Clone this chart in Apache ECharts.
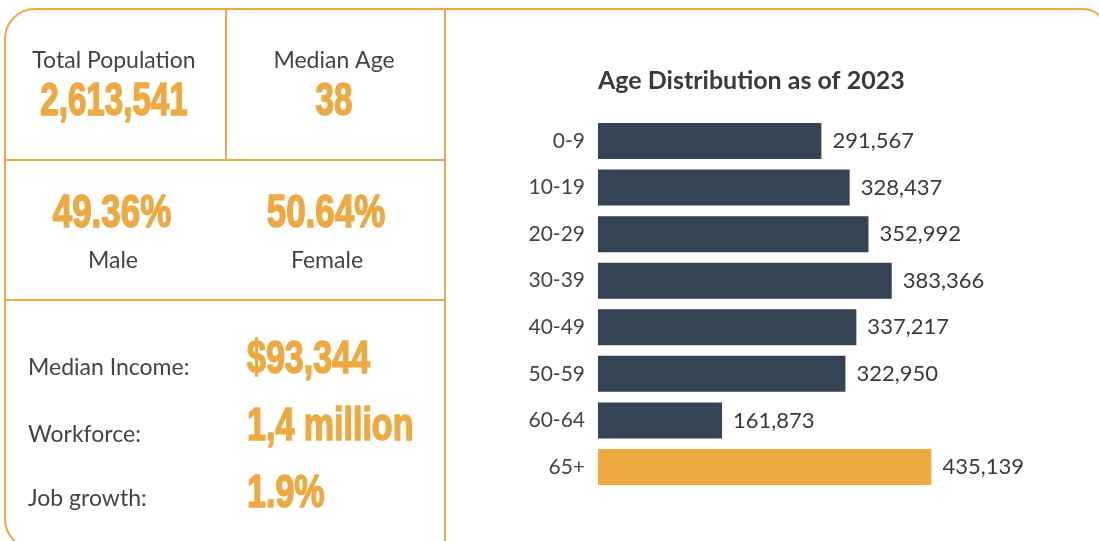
<!DOCTYPE html>
<html lang="en">
<head>
<meta charset="UTF-8">
<title>Age Distribution</title>
<script src="https://cdn.jsdelivr.net/npm/echarts@6/dist/echarts.min.js"></script>
<style>
  body { margin: 0; background: #fff; }
  #root { width: 1099px; height: 541px; }
</style>
</head>
<body>
<div id="root"></div>
<script>
// data
var ageGroups = ['0-9', '10-19', '20-29', '30-39', '40-49', '50-59', '60-64', '65+'];
var ageCounts = [291567, 328437, 352992, 383366, 337217, 322950, 161873, 435139];
var highlightGroup = '65+';

var headlineLabels = ['Total Population', 'Median Age'];
var headlineValues = ['2,613,541', '38'];
var genderLabels = ['Male', 'Female'];
var genderValues = ['49.36%', '50.64%'];
var economyLabels = ['Median Income:', 'Workforce:', 'Job growth:'];
var economyValues = ['$93,344', '1,4 million', '1.9%'];

var ORANGE = '#eea941';
var NAVY = '#354454';
var INK = '#444';
var BODY_FONT = 'Lato, "Open Sans", sans-serif';
var BIG_FONT = '"Liberation Sans", Arial, sans-serif';

var chart = echarts.init(document.getElementById('root'));

// condensed heavy numbers, squeezed horizontally
function bigNumber(text, x, y, align, sx) {
    return {
        type: 'text', x: x, y: y, scaleX: sx || 0.72,
        style: {
            text: text, x: 0, y: 0, align: align, verticalAlign: 'middle',
            font: 'bold 46px ' + BIG_FONT, fill: ORANGE,
            stroke: ORANGE, lineWidth: 1.6
        }
    };
}
function bodyText(text, x, y, align) {
    return {
        type: 'text', x: x, y: y,
        style: {
            text: text, x: 0, y: 0, align: align, verticalAlign: 'middle',
            font: '23px ' + BODY_FONT, fill: INK
        }
    };
}

var graphics = [];
// frames
graphics.push({ type: 'rect', shape: { x: 5, y: 9, width: 440, height: 540, r: [30, 0, 0, 30] },
    style: { fill: 'none', stroke: ORANGE, lineWidth: 2 } });
graphics.push({ type: 'rect', shape: { x: 445, y: 9, width: 662, height: 560, r: [0, 24, 0, 0] },
    style: { fill: 'none', stroke: ORANGE, lineWidth: 2 } });
graphics.push({ type: 'line', shape: { x1: 226, y1: 9, x2: 226, y2: 160 }, style: { stroke: ORANGE, lineWidth: 2 } });
graphics.push({ type: 'line', shape: { x1: 5, y1: 160, x2: 445, y2: 160 }, style: { stroke: ORANGE, lineWidth: 2 } });
graphics.push({ type: 'line', shape: { x1: 5, y1: 300, x2: 445, y2: 300 }, style: { stroke: ORANGE, lineWidth: 2 } });

var headlineX = [114, 334];
headlineLabels.forEach(function (t, i) {
    graphics.push(bodyText(t, headlineX[i], 61, 'center'));
    graphics.push(bigNumber(headlineValues[i], headlineX[i], 102, 'center'));
});
var genderX = [112, 326];
genderLabels.forEach(function (t, i) {
    graphics.push(bigNumber(genderValues[i], genderX[i], 214, 'center', 0.76));
    graphics.push(bodyText(t, genderX[i] + 1, 261, 'center'));
});
var econLabelY = [368, 435, 499];
var econValueY = [360, 427, 494];
economyLabels.forEach(function (t, i) {
    graphics.push(bodyText(t, 28, econLabelY[i], 'left'));
    graphics.push(bigNumber(economyValues[i], 247, econValueY[i], 'left', 0.74));
});

chart.setOption({
    animation: false,
    title: {
        text: 'Age Distribution as of 2023',
        left: 593, top: 63,
        textStyle: { fontFamily: BODY_FONT, fontSize: 25, fontWeight: 'bold', color: '#3a3a3a' }
    },
    grid: { left: 598, right: 39, top: 117.7, height: 372.6, containLabel: false },
    xAxis: { type: 'value', min: 0, max: 603000, show: false },
    yAxis: {
        type: 'category', data: ageGroups, inverse: true,
        axisLine: { show: false }, axisTick: { show: false },
        axisLabel: { margin: 13, fontSize: 21, color: INK, fontFamily: BODY_FONT }
    },
    series: [{
        type: 'bar',
        barWidth: 36,
        data: ageCounts.map(function (v, i) {
            return { value: v, itemStyle: { color: ageGroups[i] === highlightGroup ? ORANGE : NAVY } };
        }),
        label: {
            show: true, position: 'right', distance: 11,
            fontSize: 22, color: '#3a3a3a', fontFamily: BODY_FONT,
            formatter: function (p) { return p.value.toLocaleString('en-US'); }
        }
    }],
    graphic: graphics
});
</script>
</body>
</html>
